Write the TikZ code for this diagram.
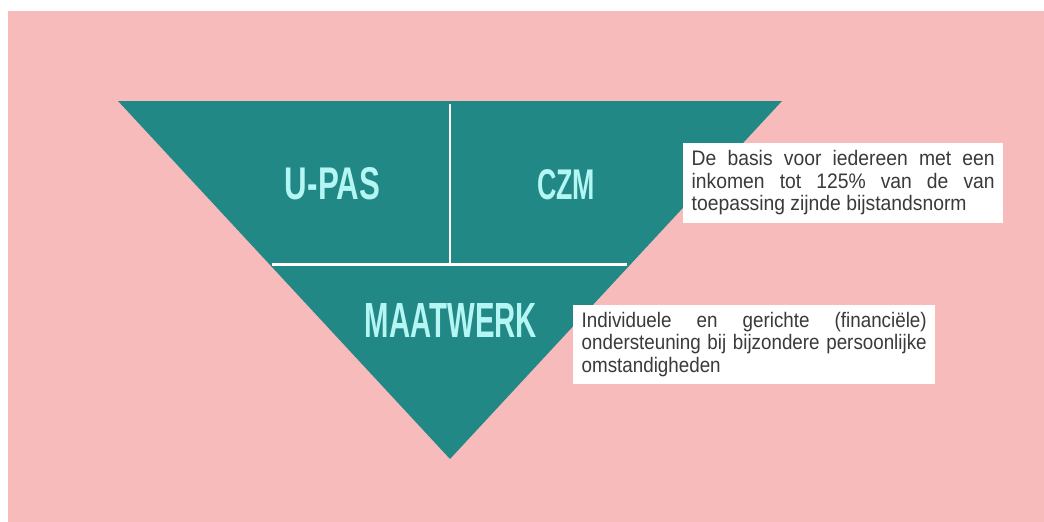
\documentclass[tikz,border=0pt]{standalone}
\usepackage{fontspec}
\usepackage{graphicx}
\newfontfamily\bodyfont[FakeStretch=0.92]{Liberation Sans}
\newfontfamily\bodyfontb[FakeStretch=0.895]{Liberation Sans}
\newfontfamily\headfont{Liberation Sans}
\definecolor{bgpink}{HTML}{F7BBBB}
\definecolor{teal1}{HTML}{218886}
\definecolor{headcol}{HTML}{B4F6F3}
\definecolor{bodycol}{HTML}{3A3A3A}
\tikzset{
  headtext/.style={inner sep=0pt, text=headcol, font=\headfont\bfseries},
  infobox/.style={fill=white, inner xsep=8.5pt, inner ysep=7.5pt, anchor=north west,
    align=justify, text=bodycol, font=\bodyfont\fontsize{21}{22.5}\selectfont},
  divider/.style={draw=white, line width=2.5pt}
}
\begin{document}
\begin{tikzpicture}[x=1pt,y=-1pt]
\useasboundingbox (0,0) rectangle (1044,522);
\fill[white] (0,0) rectangle (1044,522);
\fill[bgpink] (8,11) rectangle (1044,522);
% triangle
\coordinate (tl) at (118,101);
\coordinate (tr) at (782,101);
\coordinate (apex) at (450,459);
\fill[teal1] (tl) -- (tr) -- (apex) -- cycle;
% dividers
\coordinate (vtop) at (450,104);
\coordinate (vbot) at (450,264.5);
\coordinate (hl) at (272,264.5);
\coordinate (hr) at (627,264.5);
\draw[divider] (vtop) -- (vbot);
\draw[divider] (hl) -- (hr);
% headings
\node[headtext] (upas) at (332.5,184) {\resizebox{95pt}{32pt}{U-PAS}};
\node[headtext] (czm) at (566,185) {\resizebox{58pt}{30pt}{CZM}};
\node[headtext] (maat) at (451,320) {\resizebox{172pt}{34pt}{MAATWERK}};
% info boxes
\node[infobox, text width=303pt] (info1) at (683,143)
  {De basis voor iedereen met een\linebreak inkomen tot 125\% van de van\linebreak toepassing zijnde bijstandsnorm};
\node[infobox, text width=345pt, font=\bodyfontb\fontsize{21}{22.5}\selectfont] (info2) at (573,304.5)
  {\makebox[\linewidth][s]{Individuele en gerichte (financiële)}\\
   \makebox[\linewidth][s]{ondersteuning bij bijzondere persoonlijke}\\
   omstandigheden};
\end{tikzpicture}
\end{document}
